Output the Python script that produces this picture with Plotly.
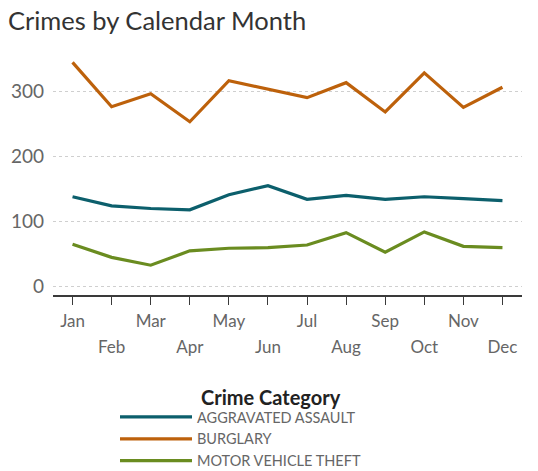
import plotly.graph_objects as go

months = ["Jan", "Feb", "Mar", "Apr", "May", "Jun", "Jul", "Aug", "Sep", "Oct", "Nov", "Dec"]
aggravated_assault = [138, 124, 120, 118, 141, 155, 134, 140, 134, 138, 135, 132]
burglary = [344, 276, 296, 253, 316, 303, 290, 313, 268, 328, 275, 306]
motor_vehicle_theft = [65, 45, 33, 55, 59, 60, 64, 83, 53, 84, 62, 60]
series_names = ["AGGRAVATED ASSAULT", "BURGLARY", "MOTOR VEHICLE THEFT"]
colors = ["#0c5f6c", "#bd610b", "#6a8c20"]
y_ticks = [0, 100, 200, 300]

font_family = "Lato, 'Open Sans', sans-serif"
idx = list(range(len(months)))
even_text = [m if i % 2 == 0 else "" for i, m in enumerate(months)]
odd_vals = [i for i in idx if i % 2 == 1]
odd_text = [months[i] for i in odd_vals]

fig = go.Figure()
for name, vals, col in zip(series_names, [aggravated_assault, burglary, motor_vehicle_theft], colors):
    fig.add_trace(go.Scatter(x=idx, y=vals, name=name, mode="lines",
                             line=dict(color=col, width=3.2)))

# invisible helper trace on second x axis so its tick labels render
fig.add_trace(go.Scatter(x=[0, 11], y=[None, None], xaxis="x2", showlegend=False,
                         hoverinfo="skip", mode="lines"))

fig.update_layout(
    width=538, height=471,
    margin=dict(l=53, r=16, t=52, b=176),
    paper_bgcolor="white", plot_bgcolor="white",
    font=dict(family=font_family, color="#666666", size=17),
    title=dict(text="Crimes by Calendar Month", x=8 / 538, xanchor="left", y=0.975, yanchor="top",
               font=dict(size=25.5, color="#333333", family=font_family)),
    xaxis=dict(range=[-0.5, 11.5], tickvals=idx, ticktext=even_text,
               showline=True, linecolor="#3a3a3a", linewidth=1.8, ticks="outside",
               tickcolor="#3a3a3a", ticklen=8, tickwidth=1.3, showgrid=False, zeroline=False,
               tickfont=dict(size=17, color="#666666"), automargin=False,
               ticklabelstandoff=2),
    xaxis2=dict(range=[-0.5, 11.5], overlaying="x", side="bottom", anchor="y",
                tickvals=odd_vals, ticktext=odd_text, ticks="", showline=False,
                showgrid=False, zeroline=False, tickfont=dict(size=17, color="#666666"),
                automargin=False, ticklabelstandoff=40),
    yaxis=dict(range=[-12.7, 360], tickvals=y_ticks, showgrid=True, gridcolor="#cfcfcf",
               griddash="dot", gridwidth=1, zeroline=False, showline=False, ticks="",
               tickfont=dict(size=19, color="#666666"), automargin=False,
               ticklabelstandoff=8),
    legend=dict(orientation="v", x=(115 - 53) / 469, xanchor="left", yref="container",
                y=0.1486, yanchor="top",
                font=dict(size=14.5, color="#666666"), tracegroupgap=0, itemwidth=72),
    annotations=[dict(text="<b>Crime Category</b>", xref="paper", yref="paper",
                      x=(199 - 53) / 469, y=(295 - 397) / 243, xanchor="left", yanchor="middle",
                      showarrow=False, font=dict(size=20, color="#222222", family=font_family))],
    showlegend=True,
)

fig.write_html("out.html", post_script="document.body.style.margin='0';",
               config={"displayModeBar": False})
